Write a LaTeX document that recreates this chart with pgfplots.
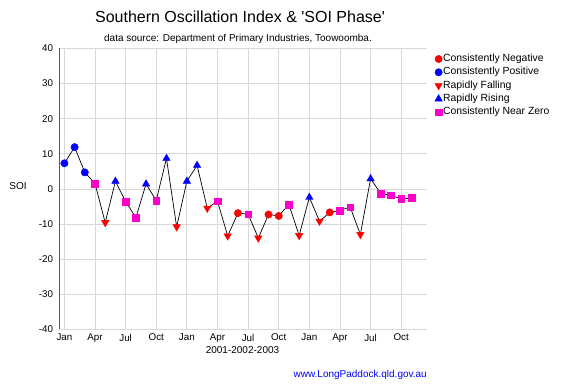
\documentclass[border=0pt]{standalone}
\usepackage{pgfplots}
\pgfplotsset{compat=1.18}
\usepackage{fontspec}
\setmainfont{Liberation Sans}
\definecolor{soimag}{RGB}{255,0,204}
\definecolor{gridgray}{RGB}{216,216,216}
\definecolor{urlblue}{RGB}{0,0,255}
\pgfplotsset{singlemark/.style={legend image code/.code={\draw[##1] plot coordinates {(0pt,0pt)};}}}
\begin{document}
\begin{tikzpicture}[x=1pt,y=1pt]
\path[use as bounding box] (0,0) rectangle (561,391);
\begin{axis}[
  at={(59.3pt,61.7pt)}, anchor=south west,
  width=367.4pt, height=280.8pt, scale only axis,
  xmin=-0.5, xmax=35.5, ymin=-40, ymax=40,
  xtick={0,3,...,33},
  xticklabels={Jan,Apr,Jul,Oct,Jan,Apr,Jul,Oct,Jan,Apr,Jul,Oct},
  ytick={-40,-30,...,40},
  grid=major,
  major grid style={gridgray, line width=0.8pt},
  axis line style={draw=none},
  tick style={draw=none},
  /pgf/number format/assume math mode=true,
  tick label style={font=\fontsize{9.8}{11}\selectfont},
  yticklabel style={anchor=east, inner sep=0pt, xshift=-6pt},
  xticklabel style={anchor=north, inner sep=0pt, yshift=-4.5pt},
  legend style={at={(rel axis cs:1,1)}, anchor=north west, xshift=8pt, yshift=-5pt,
    draw=none, fill=none, inner sep=0pt, row sep=2.7pt,
    font=\fontsize{10.4}{11}\selectfont,
    nodes={inner sep=0.8pt, text height=7pt, text depth=2pt}},
  legend cell align=left,
]
\addplot[black, line width=0.7pt, mark=none, forget plot] coordinates {
(0,7.3) (1,11.9) (2,4.7) (3,1.5) (4,-9.6) (5,2.2) (6,-3.6) (7,-8.2) (8,1.4) (9,-3.3)
(10,8.7) (11,-10.8) (12,2.2) (13,6.7) (14,-5.5) (15,-3.5) (16,-13.4) (17,-6.9) (18,-7.2) (19,-14.0)
(20,-7.3) (21,-7.7) (22,-4.4) (23,-13.3) (24,-2.4) (25,-9.2) (26,-6.7) (27,-6.1) (28,-5.2) (29,-13.0)
(30,2.9) (31,-1.3) (32,-1.8) (33,-2.9) (34,-2.6)};
% Consistently Negative
\addplot[only marks, mark=*, mark size=3.7pt, draw=red, fill=red, singlemark] coordinates {
(17,-6.9) (20,-7.3) (21,-7.7) (26,-6.7)};
\addlegendentry{Consistently Negative}
% Consistently Positive
\addplot[only marks, mark=*, mark size=3.7pt, draw=blue, fill=blue, singlemark] coordinates {
(0,7.3) (1,11.9) (2,4.7)};
\addlegendentry{Consistently Positive}
% Rapidly Falling
\addplot[only marks, mark=triangle*, mark size=4.3pt, mark options={rotate=180}, draw=red, fill=red, singlemark] coordinates {
(4,-9.6) (11,-10.8) (14,-5.5) (16,-13.4) (19,-14.0) (23,-13.3) (25,-9.2) (29,-13.0)};
\addlegendentry{Rapidly Falling}
% Rapidly Rising
\addplot[only marks, mark=triangle*, mark size=4.3pt, draw=blue, fill=blue, singlemark] coordinates {
(5,2.2) (8,1.4) (10,8.7) (12,2.2) (13,6.7) (24,-2.4) (30,2.9)};
\addlegendentry{Rapidly Rising}
% Consistently Near Zero
\addplot[only marks, mark=square*, mark size=3.4pt, draw=soimag, fill=soimag, singlemark] coordinates {
(3,1.5) (6,-3.6) (7,-8.2) (9,-3.3) (15,-3.5) (18,-7.2) (22,-4.4) (27,-6.1) (28,-5.2)
(31,-1.3) (32,-1.8) (33,-2.9) (34,-2.6)};
\addlegendentry{Consistently Near Zero}
\draw[black, line width=0.9pt] (rel axis cs:0,0) -- (rel axis cs:0,1);
\end{axis}
\node[font=\fontsize{16}{18}\selectfont] at (240,374) {Southern Oscillation Index \& \textquotesingle SOI Phase\textquotesingle};
\node[font=\fontsize{10}{11}\selectfont] at (238,352) {data source: Department of Primary Industries, Toowoomba.};
\node[font=\fontsize{10}{11}\selectfont] at (18,205) {SOI};
\node[font=\fontsize{10}{11}\selectfont] at (242.5,41) {2001-2002-2003};
\node[font=\fontsize{10}{11}\selectfont, text=urlblue, anchor=east, inner sep=0pt] at (427,16) {www.LongPaddock.qld.gov.au};
\end{tikzpicture}
\end{document}
